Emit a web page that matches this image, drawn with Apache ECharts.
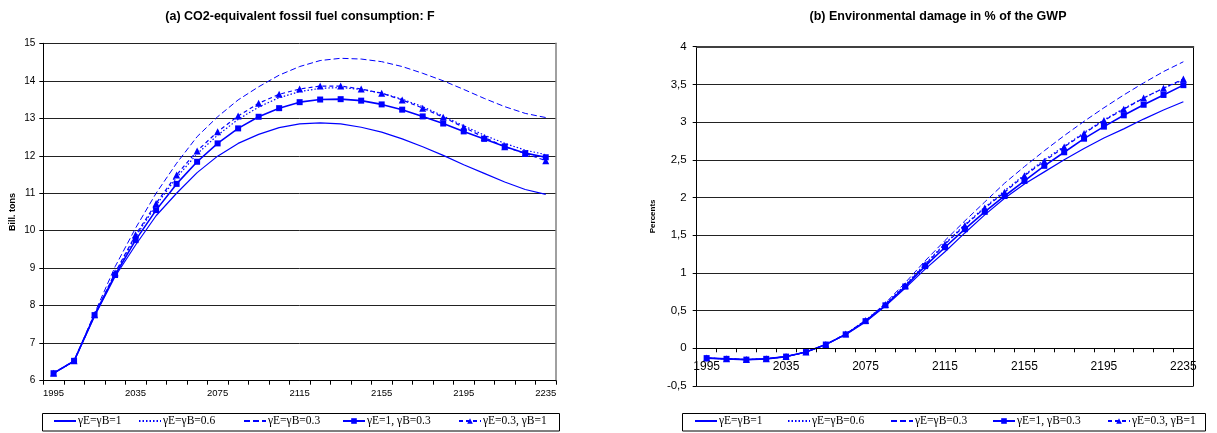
<!DOCTYPE html>
<html><head><meta charset="utf-8">
<script src="https://cdn.jsdelivr.net/npm/echarts@6/dist/echarts.min.js"></script>
<style>html,body{margin:0;padding:0;background:#fff}#c{width:1217px;height:433px}</style>
</head><body><div id="c"></div>
<script>
// ---- data ----
const years = ['1995','2005','2015','2025','2035','2045','2055','2065','2075','2085','2095','2105','2115','2125','2135','2145','2155','2165','2175','2185','2195','2205','2215','2225','2235'];
const xTickLabels = ['1995','2035','2075','2115','2155','2195','2235'];
const seriesNames = ['γE=γB=1','γE=γB=0.6','γE=γB=0.3','γE=1, γB=0.3','γE=0.3, γB=1'];

// (a) CO2-equivalent fossil fuel consumption (bill. tons)
const fuel_g1     = [6.2,6.52,7.72,8.78,9.62,10.40,11.00,11.55,11.99,12.33,12.57,12.75,12.85,12.88,12.85,12.76,12.63,12.45,12.24,12.01,11.76,11.53,11.30,11.10,10.97];
const fuel_g06    = [6.2,6.52,7.75,8.86,9.84,10.68,11.42,12.05,12.55,12.97,13.30,13.55,13.71,13.80,13.82,13.77,13.67,13.51,13.31,13.06,12.80,12.55,12.33,12.15,12.03];
const fuel_g03    = [6.2,6.52,7.80,9.04,10.07,11.00,11.80,12.51,13.04,13.49,13.84,14.15,14.38,14.54,14.60,14.58,14.51,14.38,14.20,14.00,13.77,13.53,13.31,13.13,13.02];
const fuel_e1b03  = [6.2,6.53,7.75,8.82,9.75,10.55,11.25,11.84,12.33,12.73,13.04,13.27,13.43,13.50,13.51,13.47,13.37,13.23,13.05,12.86,12.65,12.45,12.25,12.07,11.96];
const fuel_e03b1  = [6.2,6.53,7.76,8.88,9.89,10.73,11.49,12.13,12.64,13.06,13.40,13.64,13.78,13.86,13.86,13.78,13.67,13.49,13.27,13.03,12.76,12.49,12.24,12.06,11.87];

// (b) Environmental damage in % of GWP
const dmg_g1      = [-0.13,-0.14,-0.15,-0.14,-0.11,-0.05,0.05,0.18,0.35,0.56,0.80,1.05,1.28,1.53,1.77,1.99,2.18,2.34,2.50,2.65,2.79,2.91,3.04,3.16,3.27];
const dmg_g06     = [-0.13,-0.14,-0.15,-0.14,-0.11,-0.05,0.05,0.19,0.37,0.59,0.84,1.12,1.39,1.64,1.87,2.09,2.30,2.50,2.68,2.86,3.03,3.18,3.32,3.45,3.56];
const dmg_g03     = [-0.13,-0.14,-0.15,-0.14,-0.11,-0.05,0.05,0.19,0.36,0.60,0.87,1.16,1.43,1.69,1.94,2.19,2.41,2.62,2.82,3.01,3.19,3.36,3.52,3.67,3.80];
const dmg_e1b03   = [-0.13,-0.14,-0.15,-0.14,-0.11,-0.05,0.05,0.185,0.36,0.57,0.82,1.09,1.34,1.58,1.81,2.02,2.22,2.42,2.60,2.78,2.94,3.09,3.23,3.36,3.49];
const dmg_e03b1   = [-0.13,-0.14,-0.15,-0.14,-0.11,-0.05,0.05,0.19,0.37,0.58,0.83,1.11,1.38,1.63,1.86,2.07,2.29,2.48,2.67,2.85,3.02,3.17,3.32,3.45,3.57];

const titleA = '(a) CO2-equivalent fossil fuel consumption: F';
const titleB = '(b) Environmental damage in % of the GWP';
const yNameA = 'Bill. tons';
const yNameB = 'Percents';

// ---- styling ----
const BLUE = '#0000ff';
const SANS = '"Liberation Sans", Arial, sans-serif';
const SERIF = '"Liberation Serif", "Times New Roman", serif';
const styles = [
  {lineStyle:{type:'solid', width:1.2}, symbol:'none'},
  {lineStyle:{type:[1.5,2], width:1.2}, symbol:'none'},
  {lineStyle:{type:[6,3], width:1}, symbol:'none'},
  {lineStyle:{type:'solid', width:1.6}, symbol:'rect', symbolSize:6},
  {lineStyle:{type:[4,3], width:1.2}, symbol:'triangle', symbolSize:7}
];
const fuelData = [fuel_g1, fuel_g06, fuel_g03, fuel_e1b03, fuel_e03b1];
const dmgData = [dmg_g1, dmg_g06, dmg_g03, dmg_e1b03, dmg_e03b1];

function mkSeries(dataArr, idx) {
  return dataArr.map((d, i) => ({
    name: seriesNames[i], type: 'line', xAxisIndex: idx, yAxisIndex: idx,
    data: d, color: BLUE,
    symbol: styles[i].symbol,
    showSymbol: styles[i].symbol !== 'none',
    symbolSize: styles[i].symbolSize || 4,
    lineStyle: Object.assign({color: BLUE}, styles[i].lineStyle),
    itemStyle: {color: BLUE},
    z: 2 + i, silent: true, animation: false
  }));
}

const showLabel = (i, v) => xTickLabels.includes(v);

function legendItems(xs, top) {
  return seriesNames.map((n, i) => ({
    data: [styles[i].symbol === 'none'
      ? {name: n, itemStyle: {color: 'rgba(0,0,0,0)', borderColor: 'rgba(0,0,0,0)', borderWidth: 0, opacity: 0}}
      : {name: n}],
    left: xs[i], top: top, padding: 0, itemGap: 0,
    itemWidth: 22, itemHeight: 7, selectedMode: false,
    textStyle: {fontFamily: SERIF, fontSize: 11.5, color: '#000', padding: [0,0,0,-3]}
  }));
}

const option = {
  animation: false,
  backgroundColor: '#fff',
  graphic: [
    {type:'text', style:{text: titleA, x: 300, y: 10, textAlign:'center', font: 'bold 12.5px ' + SANS, fill:'#000'}},
    {type:'text', style:{text: titleB, x: 938, y: 10, textAlign:'center', font: 'bold 12.5px ' + SANS, fill:'#000'}},
    {type:'rect', shape:{x:42.5, y:413.5, width:517, height:17.5}, style:{fill:'none', stroke:'#000', lineWidth:1}},
    {type:'rect', shape:{x:682.5, y:413.5, width:523, height:17.5}, style:{fill:'none', stroke:'#000', lineWidth:1}}
  ],
  legend: legendItems([53, 138, 243, 342, 458], 415).concat(legendItems([694, 787, 890, 992, 1107], 415)),
  grid: [
    {left: 43.3, right: 661, top: 43.3, bottom: 52.3},
    {left: 696.7, right: 23.7, top: 46.7, bottom: 47},
    // overlay grid whose bottom edge is the zero line of chart (b): carries the category axis
    {left: 696.7, right: 23.7, top: 46.7, bottom: 84.7}
  ],
  xAxis: [
    {type:'category', gridIndex:0, data: years, boundaryGap: true,
     axisLine:{lineStyle:{color:'#000', width:1}},
     axisTick:{show:true, interval:0, length:4, lineStyle:{color:'#000'}},
     axisLabel:{interval: showLabel, fontFamily: SANS, fontSize: 9.5, color:'#000', margin: 8},
     splitLine:{show:false}},
    {type:'category', gridIndex:1, data: years, boundaryGap: true,
     axisLine:{show:false}, axisTick:{show:false}, axisLabel:{show:false}, splitLine:{show:false}},
    {type:'category', gridIndex:1, data: years, position:'top',
     axisLine:{onZero:false, lineStyle:{color:'#404040', width:2}},
     axisTick:{show:false}, axisLabel:{show:false}, splitLine:{show:false}},
    {type:'category', gridIndex:2, data: years, boundaryGap: true, position:'bottom',
     axisLine:{onZero:false, lineStyle:{color:'#000', width:1}},
     axisTick:{show:true, interval:0, length:4, lineStyle:{color:'#000'}},
     axisLabel:{interval: showLabel, fontFamily: SANS, fontSize: 12, color:'#000', margin: 12},
     splitLine:{show:false}, z: 10}
  ],
  yAxis: [
    {type:'value', gridIndex:0, min:6, max:15, interval:1,
     name: yNameA, nameLocation:'middle', nameGap: 26, nameRotate: 90,
     nameTextStyle:{fontFamily: SANS, fontWeight:'bold', fontSize: 9, color:'#000'},
     axisLine:{show:true, lineStyle:{color:'#000'}},
     axisTick:{show:true, length:4, lineStyle:{color:'#000'}},
     axisLabel:{fontFamily: SANS, fontSize: 10, color:'#000', margin: 8},
     splitLine:{show:true, lineStyle:{color:'#222', width:1}}},
    {type:'value', gridIndex:1, min:-0.5, max:4, interval:0.5,
     name: yNameB, nameLocation:'middle', nameGap: 40, nameRotate: 90,
     nameTextStyle:{fontFamily: SANS, fontWeight:'bold', fontSize: 8, color:'#000'},
     axisLine:{show:true, onZero:false, lineStyle:{color:'#000'}},
     axisTick:{show:true, length:4, lineStyle:{color:'#000'}},
     axisLabel:{fontFamily: SANS, fontSize: 11.5, color:'#000', margin: 10,
       formatter: v => String(v).replace('.', ',')},
     splitLine:{show:true, lineStyle:{color:'#222', width:1}}},
    {type:'value', gridIndex:0, min:6, max:15, interval:1, position:'right',
     axisLine:{show:true, onZero:false, lineStyle:{color:'#808080', width:1.5}},
     axisTick:{show:false}, axisLabel:{show:false}, splitLine:{show:false}},
    {type:'value', gridIndex:1, min:-0.5, max:4, interval:0.5, position:'right',
     axisLine:{show:true, onZero:false, lineStyle:{color:'#000', width:1}},
     axisTick:{show:false}, axisLabel:{show:false}, splitLine:{show:false}},
    {type:'value', gridIndex:2, min:0, max:4, show:false}
  ],
  series: mkSeries(fuelData, 0).concat(mkSeries(dmgData, 1))
};

const chart = echarts.init(document.getElementById('c'), null, {renderer:'canvas'});
chart.setOption(option);
</script>
</body></html>
